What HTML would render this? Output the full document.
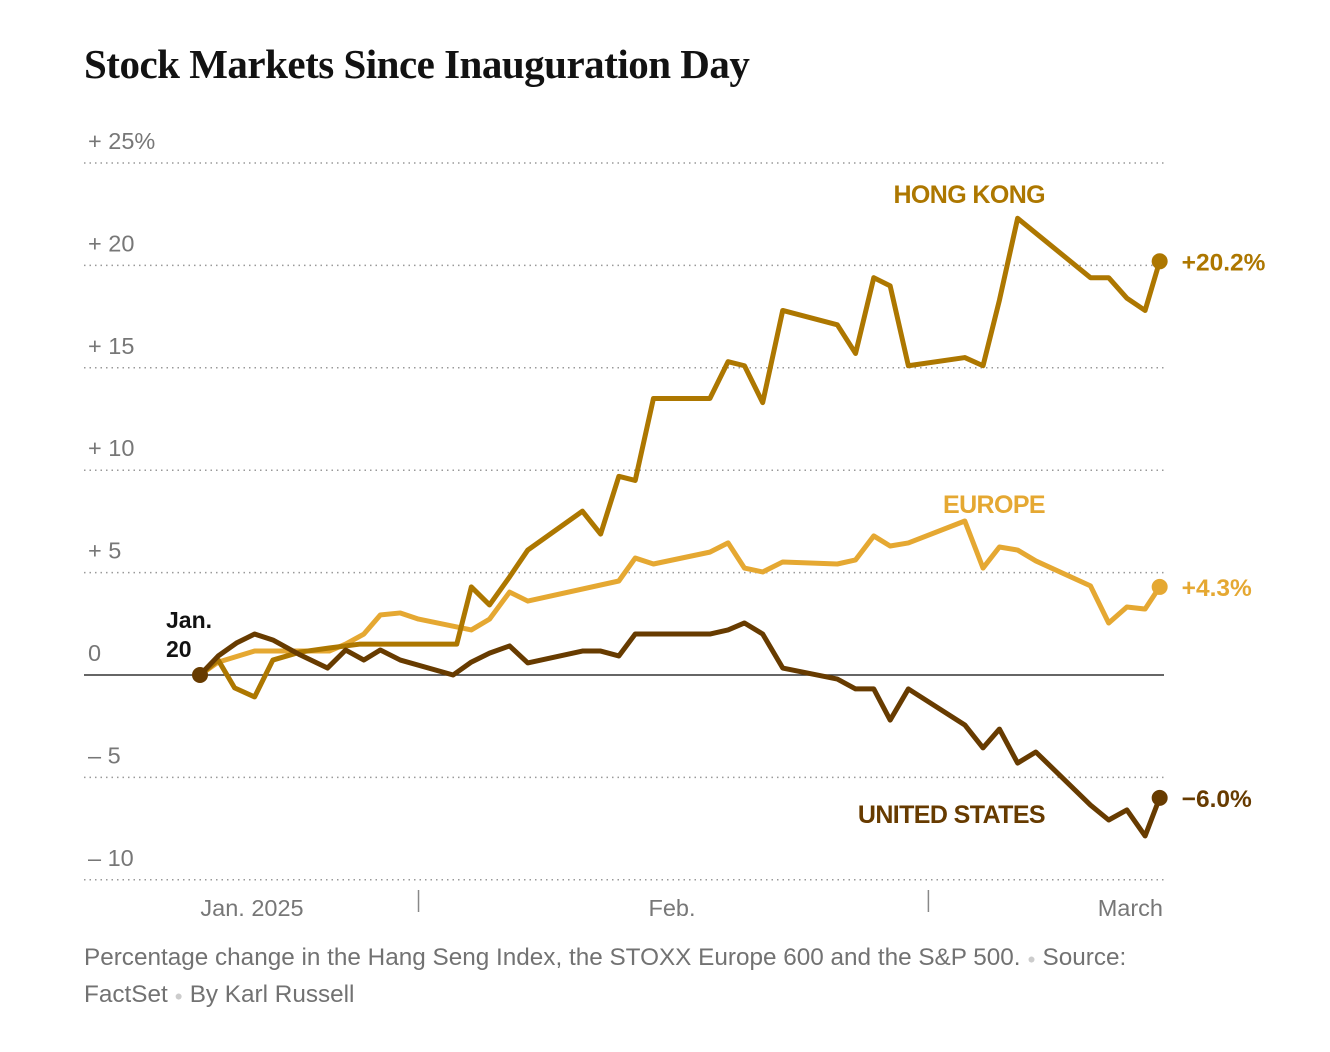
<!DOCTYPE html>
<html><head><meta charset="utf-8"><style>
body{margin:0;background:#fff;width:1330px;height:1052px;overflow:hidden;font-family:"Liberation Sans",sans-serif}
#title{position:absolute;left:84px;top:40px;font-family:"Liberation Serif",serif;font-weight:bold;font-size:41px;color:#121212;letter-spacing:-0.5px;margin:0}
#note{position:absolute;left:84px;top:940px;width:1075px;font-size:24.3px;line-height:36px;color:#727272}
.dot{color:#ccc;font-size:14px;vertical-align:middle}
</style></head><body>
<h1 id="title">Stock Markets Since Inauguration Day</h1>
<svg id="chart" width="1330" height="1052" style="position:absolute;left:0;top:0"></svg>
<div id="note">Percentage change in the Hang Seng Index, the STOXX Europe 600 and the S&amp;P 500. <span class="dot">●</span> Source: FactSet <span class="dot">●</span> By Karl Russell</div>
<script>
const yTicks=[25,20,15,10,5,0,-5,-10];
const yTickLabels=["+ 25%","+ 20","+ 15","+ 10","+  5","0","–  5","– 10"];
const hkDays=[0,1.0,1.9,3.0,4.0,5.5,7.1,8.8,14.1,14.9,15.9,17.0,18.0,21.0,22.0,23.0,23.9,24.9,28.0,29.0,29.9,30.9,32.0,35.0,36.0,37.0,37.9,38.9,42.0,43.0,43.9,44.9,48.9,49.9,50.9,51.9,52.7];
const hkValues=[0,0.73,-0.63,-1.07,0.73,1.12,1.32,1.51,1.51,4.3,3.42,4.79,6.1,8.0,6.88,9.7,9.5,13.5,13.5,15.3,15.1,13.3,17.8,17.1,15.7,19.4,19.0,15.1,15.5,15.1,18.3,22.3,19.4,19.4,18.4,17.8,20.2];
const euDays=[0,1.0,3.0,4.9,7.1,8.0,9.0,9.9,11.0,12.0,14.9,15.9,17.0,18.0,23.0,23.9,24.9,28.0,29.0,29.9,30.9,32.0,35.0,36.0,37.0,37.9,38.9,42.0,43.0,43.9,44.9,45.9,48.9,49.9,50.9,51.9,52.7];
const euValues=[0,0.63,1.17,1.17,1.17,1.51,2.0,2.93,3.03,2.73,2.2,2.73,4.05,3.61,4.59,5.71,5.42,6.0,6.45,5.22,5.03,5.52,5.42,5.62,6.79,6.3,6.45,7.52,5.22,6.25,6.1,5.57,4.35,2.54,3.32,3.22,4.3];
const usDays=[0,1.0,2.0,3.0,4.0,5.5,7.0,8.0,9.0,9.9,11.0,13.9,14.9,15.9,17.0,18.0,21.0,22.0,23.0,23.9,28.0,29.0,29.9,30.9,32.0,35.0,36.0,37.0,37.9,38.9,42.0,43.0,43.9,44.9,45.9,48.9,49.9,50.9,51.9,52.7];
const usValues=[0,0.93,1.56,2.0,1.71,0.98,0.34,1.22,0.73,1.22,0.73,0,0.63,1.07,1.42,0.59,1.17,1.17,0.93,2.0,2.0,2.2,2.54,2.0,0.34,-0.2,-0.68,-0.68,-2.2,-0.68,-2.44,-3.56,-2.64,-4.3,-3.76,-6.35,-7.08,-6.59,-7.86,-6.0];
const monthTicks=[12,40];
const monthLabels=["Jan. 2025","Feb.","March"];
const endLabels=["+20.2%","+4.3%","−6.0%"];
const seriesNames=["HONG KONG","EUROPE","UNITED STATES"];

const NS="http://www.w3.org/2000/svg";
const svg=document.getElementById('chart');
const X=d=>200+d*18.21;
const Y=v=>675-v*20.48;
function mk(t,a){const e=document.createElementNS(NS,t);for(const k in a)e.setAttribute(k,a[k]);svg.appendChild(e);return e;}
yTicks.forEach((v,i)=>{
  if(v!==0){const l=mk('line',{x1:84,x2:1164,y1:Y(v),y2:Y(v),stroke:'#999','stroke-width':1.5,'stroke-dasharray':'1.5,4'});
  
  }
  const t=mk('text',{x:88,y:Y(v)-14,'font-size':23.5,fill:'#777','xml:space':'preserve'});
  t.textContent=yTickLabels[i];
  
  
});
const z=mk('line',{x1:84,x2:1164,y1:Y(0),y2:Y(0),stroke:'#333','stroke-width':1.5});


monthTicks.forEach(d=>{const l=mk('line',{x1:X(d),x2:X(d),y1:890,y2:912,stroke:'#888','stroke-width':1.5});

});
const mx=[[252,'middle'],[672,'middle'],[1163,'end']];
monthLabels.forEach((s,i)=>{const t=mk('text',{x:mx[i][0],y:916,'font-size':23.5,fill:'#777','text-anchor':mx[i][1]});t.textContent=s;

});
const cols=['#ad7700','#e5a832','#673b00'];
const all=[[hkDays,hkValues],[euDays,euValues],[usDays,usValues]];
const order=[1,0,2];
order.forEach(i=>{
  const [ds,vs]=all[i];
  const p=mk('polyline',{points:ds.map((d,j)=>X(d)+','+Y(vs[j])).join(' '),fill:'none',stroke:cols[i],'stroke-width':5,'stroke-linejoin':'round'});
  
  
  const n=ds.length-1;
  const c=mk('circle',{cx:X(ds[n]),cy:Y(vs[n]),r:8,fill:cols[i]});
  
  
  const t=mk('text',{x:X(ds[n])+22,y:Y(vs[n])+9,'font-size':24.5,'font-weight':'bold',fill:cols[i]});
  t.textContent=endLabels[i];
  
  
});
const nl=[[1045,203],[1045,513],[1045,823]];
seriesNames.forEach((s,i)=>{const t=mk('text',{x:nl[i][0],y:nl[i][1],'font-size':25,'font-weight':'bold',fill:cols[i],'text-anchor':'end','letter-spacing':'-0.6'});t.textContent=s;

});
const sc=mk('circle',{cx:X(0),cy:Y(0),r:8,fill:'#673b00'});


[['Jan.',628],['20',657]].forEach(a=>{const t=mk('text',{x:166,y:a[1],'font-size':23,'font-weight':'bold',fill:'#121212'});t.textContent=a[0];

});
</script>
</body></html>
